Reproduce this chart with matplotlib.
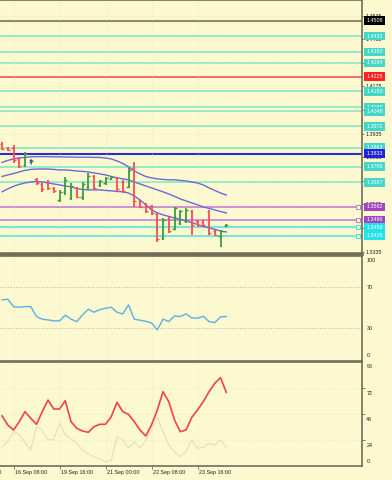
import numpy as np
import matplotlib
matplotlib.use("Agg")
import matplotlib.pyplot as plt
from matplotlib.transforms import offset_copy

plt.rcParams['font.family'] = ['Liberation Sans', 'DejaVu Sans']

# ---- data -------------------------------------------------------------
bar_open = [1.3884, 1.3862, 1.3860, 1.3805, 1.3775, 1.3790, 1.3702, 1.3678, 1.3688, 1.3660,
            1.3600, 1.3640, 1.3610, 1.3660, 1.3615, 1.3665, 1.3718, 1.3672, 1.3685, 1.3704,
            1.3710, 1.3690, 1.3665, 1.3760, 1.3592, 1.3575, 1.3565, 1.3525, 1.3405, 1.3500,
            1.3450, 1.3480, 1.3490, 1.3540, 1.3490, 1.3488, 1.3540, 1.3440, 1.3412, 1.3465]
bar_high = [1.3890, 1.3868, 1.3877, 1.3818, 1.3843, 1.3800, 1.3708, 1.3682, 1.3700, 1.3666,
            1.3649, 1.3716, 1.3682, 1.3666, 1.3691, 1.3733, 1.3725, 1.3700, 1.3716, 1.3716,
            1.3716, 1.3700, 1.3759, 1.3793, 1.3598, 1.3581, 1.3572, 1.3530, 1.3505, 1.3513,
            1.3564, 1.3547, 1.3555, 1.3547, 1.3496, 1.3496, 1.3547, 1.3445, 1.3445, 1.3476]
bar_low = [1.3852, 1.3848, 1.3784, 1.3759, 1.3767, 1.3786, 1.3674, 1.3640, 1.3649, 1.3632,
           1.3589, 1.3623, 1.3598, 1.3606, 1.3598, 1.3649, 1.3649, 1.3666, 1.3674, 1.3700,
           1.3640, 1.3632, 1.3657, 1.3564, 1.3555, 1.3530, 1.3522, 1.3386, 1.3395, 1.3429,
           1.3445, 1.3471, 1.3479, 1.3420, 1.3462, 1.3462, 1.3420, 1.3412, 1.3361, 1.3462]
bar_close = [1.3858, 1.3852, 1.3800, 1.3770, 1.3830, 1.3796, 1.3684, 1.3652, 1.3660, 1.3642,
             1.3640, 1.3700, 1.3670, 1.3615, 1.3680, 1.3720, 1.3660, 1.3692, 1.3708, 1.3712,
             1.3652, 1.3645, 1.3750, 1.3590, 1.3562, 1.3540, 1.3530, 1.3400, 1.3495, 1.3440,
             1.3555, 1.3540, 1.3548, 1.3470, 1.3470, 1.3468, 1.3430, 1.3418, 1.3440, 1.3472]

band_upper = [1.3788, 1.3799, 1.3806, 1.3811, 1.3814, 1.3817, 1.3818, 1.3818, 1.3818, 1.3817,
              1.3817, 1.3816, 1.3816, 1.3815, 1.3815, 1.3815, 1.3814, 1.3814, 1.3811, 1.3806,
              1.3796, 1.3783, 1.3766, 1.3745, 1.3730, 1.3717, 1.3710, 1.3705, 1.3702, 1.3700,
              1.3700, 1.3697, 1.3694, 1.3689, 1.3684, 1.3674, 1.3659, 1.3646, 1.3633, 1.3623]
band_mid = [1.3717, 1.3725, 1.3732, 1.3740, 1.3748, 1.3753, 1.3755, 1.3755, 1.3755, 1.3753,
            1.3750, 1.3750, 1.3748, 1.3745, 1.3743, 1.3740, 1.3735, 1.3730, 1.3725, 1.3717,
            1.3710, 1.3705, 1.3700, 1.3689, 1.3679, 1.3669, 1.3659, 1.3649, 1.3639, 1.3628,
            1.3616, 1.3603, 1.3593, 1.3583, 1.3573, 1.3562, 1.3555, 1.3547, 1.3539, 1.3532]
band_lower = [1.3639, 1.3654, 1.3667, 1.3677, 1.3684, 1.3689, 1.3692, 1.3689, 1.3684, 1.3679,
              1.3674, 1.3669, 1.3664, 1.3656, 1.3651, 1.3649, 1.3649, 1.3649, 1.3646, 1.3644,
              1.3641, 1.3639, 1.3633, 1.3618, 1.3598, 1.3573, 1.3547, 1.3532, 1.3522, 1.3514,
              1.3506, 1.3499, 1.3491, 1.3483, 1.3473, 1.3463, 1.3456, 1.3448, 1.3440, 1.3435]

arrow_bar = [5]
arrow_price = [1.3789]

rsi = [57.6, 58.3, 51.1, 50.5, 51.1, 51.1, 41.4, 38.8, 38.1, 37.2,
       37.2, 42.7, 38.8, 36.5, 43.0, 48.5, 45.6, 48.2, 49.5, 50.5,
       45.6, 44.0, 52.8, 38.8, 37.8, 36.8, 35.2, 28.4, 38.8, 36.5,
       42.0, 41.4, 44.0, 40.1, 39.8, 41.7, 36.5, 35.5, 41.1, 41.4]

stoch_main = [46.2, 37.9, 33.2, 40.9, 50.2, 44.0, 38.5, 50.2, 60.9, 52.6,
              52.6, 60.3, 40.9, 34.8, 32.3, 31.1, 36.3, 38.5, 38.5, 45.6,
              58.8, 50.2, 47.7, 40.9, 33.2, 27.7, 37.9, 51.7, 68.6, 59.4,
              42.5, 31.7, 33.2, 44.9, 51.7, 59.4, 68.6, 76.3, 81.6, 68.0]
stoch_signal = [17.9, 22.5, 31.7, 28.6, 21.5, 14.8, 36.3, 33.2, 24.0, 24.6,
                39.4, 28.6, 25.5, 20.9, 14.8, 11.1, 8.6, 6.5, 4.0, 4.9,
                27.1, 24.0, 16.3, 22.5, 16.3, 24.0, 33.2, 44.9, 31.7, 19.4,
                13.2, 8.6, 13.2, 24.0, 16.3, 17.2, 20.9, 19.4, 24.0, 17.2]

# horizontal levels: price and kind (sets line / box colour)
level_price = [1.4508, 1.4431, 1.4350, 1.4294, 1.4225, 1.4150, 1.4069, 1.4048, 1.3972,
               1.3863, 1.3833, 1.3766, 1.3687, 1.3562, 1.3496, 1.3459, 1.3415]
level_kind = ['grey', 'aqua', 'aqua', 'aqua', 'red', 'aqua', 'aqua', 'aqua', 'aqua',
              'aqua', 'blue', 'aqua', 'aqua', 'purple', 'purple', 'cyan', 'cyan']

price_ticks = [1.4535, 1.4415, 1.4295, 1.4175, 1.4055, 1.3935, 1.3815, 1.3695, 1.3575,
               1.3455, 1.3335]
time_tick_bar = [-6, 2, 10, 18, 26, 34]
time_tick_label = ['15 Sep 00:00', '16 Sep 08:00', '19 Sep 16:00', '21 Sep 00:00',
                   '22 Sep 08:00', '23 Sep 16:00']
rsi_ticks = [100, 70, 30, 0]
stoch_ticks = [96, 72, 48, 24, 0]

# ---- style ------------------------------------------------------------
BG = '#fcf8cf'
EDGE = '#6e6e58'
line_col = {'grey': '#8a8a70', 'aqua': '#78e6c6', 'red': '#f04848', 'blue': '#2b2bd6',
            'purple': '#c274d8', 'cyan': '#48e2e0'}
box_col = {'grey': '#000000', 'aqua': '#44d6c8', 'red': '#ff2020', 'blue': '#2222dd',
           'purple': '#a244c4', 'cyan': '#22e2ea'}
FS = 3.9

W, H = 392, 480
fig = plt.figure(figsize=(W / 100, H / 100), dpi=100, facecolor=BG)
pw = 362 / W
ax1 = fig.add_axes([0, 1 - 254 / H, pw, 254 / H])
ax2 = fig.add_axes([0, 1 - 361 / H, pw, 105 / H])
ax3 = fig.add_axes([0, 1 - 466 / H, pw, 104 / H])

x = np.arange(len(bar_open))
xlim = (-0.35, 62.6)

for ax in (ax1, ax2, ax3):
    ax.set_facecolor(BG)
    ax.spines['left'].set_visible(False)
    for s in ('top', 'right', 'bottom'):
        ax.spines[s].set_color(EDGE)
        ax.spines[s].set_linewidth(1.2)
    ax.tick_params(axis='x', length=0, labelbottom=False)
    ax.tick_params(axis='y', left=False, labelleft=False)
    ax.set_xticks(time_tick_bar)
    ax.set_xlim(*xlim)
    ax.grid(True, color='#ebe4b8', linestyle=':', linewidth=0.5)
ax1.spines['bottom'].set_linewidth(2.6)

# ---- main panel -----------------------------------------------------
ax1.set_ylim(1.3323, 1.4614)
ax1.set_yticks(price_ticks)
ax1.yaxis.tick_right()
ax1.tick_params(axis='y', right=True, labelright=True, length=1.5, width=0.6,
                color=EDGE, labelsize=FS, pad=1.2, labelcolor='#222222')
ax1.set_yticklabels([f'{p:.4f}' for p in price_ticks])

for p, k in zip(level_price, level_kind):
    ax1.axhline(p, color=line_col[k], lw=1.5 if k in ('grey', 'blue') else 1.1, zorder=1)

for k, (p, kind) in enumerate(zip(level_price, level_kind)):
    if kind in ('purple', 'cyan'):
        ax1.plot([61.9], [p], marker='s', ms=2.6, mfc=BG, mec=line_col[kind], mew=0.7,
                 clip_on=False, zorder=4)
    ax1.text(1.012, p, f'{p:.4f}', transform=ax1.get_yaxis_transform(), ha='left',
             va='center', fontsize=FS, color='white', zorder=5 + k,
             bbox=dict(boxstyle='square,pad=0.35', fc=box_col[kind], ec='none'))

band_c = '#6a6ad8'
ax1.plot(x, band_upper, color=band_c, lw=1.0, zorder=2)
ax1.plot(x, band_mid, color=band_c, lw=1.0, zorder=2)
ax1.plot(x, band_lower, color=band_c, lw=1.0, zorder=2)

cols = ['#3c9c3c' if c >= o else '#ff4c4c' for o, c in zip(bar_open, bar_close)]
ax1.vlines(x, bar_low, bar_high, colors=cols, lw=1.3, zorder=3)
ax1.hlines(bar_open, x - 0.38, x, colors=cols, lw=1.0, zorder=3)
ax1.hlines(bar_close, x, x + 0.38, colors=cols, lw=1.0, zorder=3)

for b, p in zip(arrow_bar, arrow_price):
    ax1.text(b, p, '↑', color='#3a3ae0', fontsize=5.5, ha='center', va='center',
             fontweight='bold', family='DejaVu Sans', zorder=4)

# ---- RSI --------------------------------------------------------------
ax2.set_ylim(-2, 100.5)
ax2.plot(x, rsi, color='#5cb0e4', lw=1.0)
for lv in (70, 30):
    ax2.axhline(lv, color='#b8b4a0', ls=':', lw=0.7)
ax2.set_yticks([])
rsi_pos = [96.5, 70, 30, 3.5]
for t, pos in zip(rsi_ticks, rsi_pos):
    ax2.text(1.012, pos, str(t), transform=ax2.get_yaxis_transform(), ha='left',
             va='center', fontsize=FS, color='#222222')

# ---- Stochastic ----------------------------------------------------------
ax3.set_ylim(0, 96)
ax3.plot(x, stoch_signal, color='#e4dec0', lw=0.8)
ax3.plot(x, stoch_main, color='#f04444', lw=1.2)
ax3.set_yticks(stoch_ticks[1:-1])
ax3.tick_params(axis='y', right=True, labelright=False, length=2, width=0.6, color=EDGE)
for t in stoch_ticks:
    pos = t - 5.5
    if t == 96:
        pos = 91.5
    if t == 0:
        pos = 4.0
    ax3.text(1.012, pos, str(t), transform=ax3.get_yaxis_transform(), ha='left',
             va='center', fontsize=FS, color='#222222')

ax3.tick_params(axis='x', length=2.5, width=0.6, color=EDGE, direction='out')
tr = offset_copy(ax3.get_xaxis_transform(), fig=fig, x=1.0, y=-5, units='points')
for b, lab in zip(time_tick_bar, time_tick_label):
    ax3.text(b, 0, lab, transform=tr, ha='left', va='center', fontsize=FS,
             color='#222222', clip_on=False)

fig.savefig('out.png', dpi=100, facecolor=BG)
